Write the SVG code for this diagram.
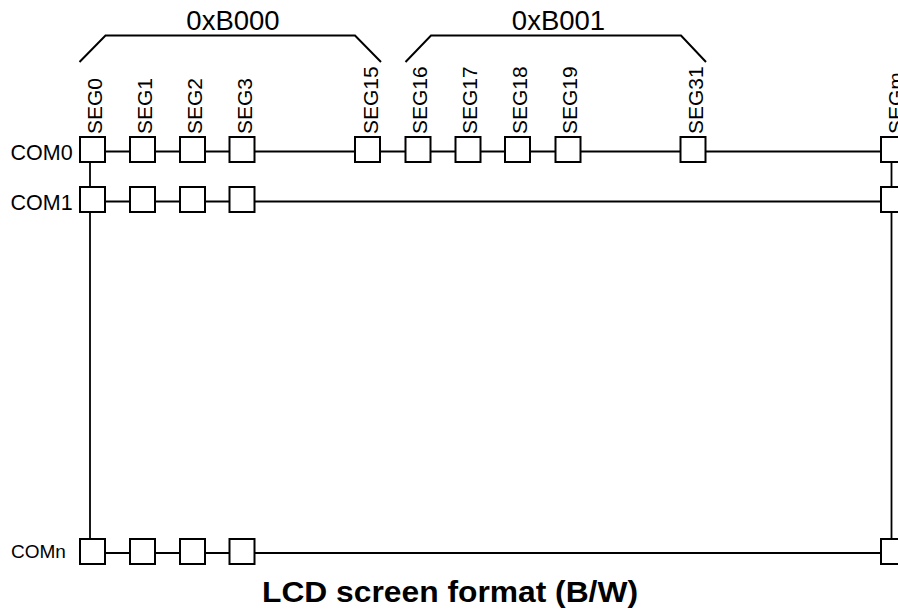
<svg xmlns="http://www.w3.org/2000/svg" width="898" height="612" viewBox="0 0 898 612">
<style>
text{font-family:"Liberation Sans",Arial,sans-serif;fill:#000}
.seg{font-size:21px}
.com{font-size:21.5px}
.addr{font-size:27.5px;text-anchor:middle}
.title{font-size:29px;font-weight:bold;text-anchor:middle}
.ln{stroke:#000;stroke-width:1.8;fill:none}
.br{stroke:#000;stroke-width:2;fill:none}
.cell{fill:#fff;stroke:#000;stroke-width:2}
</style>
<rect width="898" height="612" fill="#fff"/>
<g id="connectors">
<line class="ln" x1="92" y1="151.5" x2="898" y2="151.5"/>
<line class="ln" x1="92" y1="201.5" x2="898" y2="201.5"/>
<line class="ln" x1="92" y1="553" x2="898" y2="553"/>
<line class="ln" x1="90" y1="150" x2="90" y2="552"/>
<line class="ln" x1="891.5" y1="150" x2="891.5" y2="552"/>
</g>
<g id="bracket-B000">
<polyline class="br" points="79.5,62 105.5,35.5 355,35.5 381,62"/>
<text class="addr" x="233" y="30">0xB000</text>
</g>
<g id="bracket-B001">
<polyline class="br" points="405.5,62 431,35.5 681,35.5 706,62"/>
<text class="addr" x="558.5" y="30">0xB001</text>
</g>
<g id="seg-labels">
<text class="seg" transform="translate(102,134) rotate(-90)">SEG0</text>
<text class="seg" transform="translate(151.5,134) rotate(-90)">SEG1</text>
<text class="seg" transform="translate(201.5,134) rotate(-90)">SEG2</text>
<text class="seg" transform="translate(251.5,134) rotate(-90)">SEG3</text>
<text class="seg" transform="translate(377.5,134) rotate(-90)">SEG15</text>
<text class="seg" transform="translate(427,134) rotate(-90)">SEG16</text>
<text class="seg" transform="translate(477,134) rotate(-90)">SEG17</text>
<text class="seg" transform="translate(526.5,134) rotate(-90)">SEG18</text>
<text class="seg" transform="translate(577,134) rotate(-90)">SEG19</text>
<text class="seg" transform="translate(702.5,134) rotate(-90)">SEG31</text>
<text class="seg" transform="translate(902.5,134) rotate(-90)">SEGm</text>
</g>
<g id="com0">
<text class="com" x="10.5" y="160">COM0</text>
<rect class="cell" x="80" y="137" width="25" height="25"/>
<rect class="cell" x="130" y="137" width="25" height="25"/>
<rect class="cell" x="180" y="137" width="25" height="25"/>
<rect class="cell" x="229.5" y="137" width="25" height="25"/>
<rect class="cell" x="355" y="137" width="25" height="25"/>
<rect class="cell" x="405.5" y="137" width="25" height="25"/>
<rect class="cell" x="455.5" y="137" width="25" height="25"/>
<rect class="cell" x="505" y="137" width="25" height="25"/>
<rect class="cell" x="555.5" y="137" width="25" height="25"/>
<rect class="cell" x="680.5" y="137" width="25" height="25"/>
<rect class="cell" x="881" y="137" width="25" height="25"/>
</g>
<g id="com1">
<text class="com" x="10.5" y="210">COM1</text>
<rect class="cell" x="80" y="187" width="25" height="25"/>
<rect class="cell" x="130" y="187" width="25" height="25"/>
<rect class="cell" x="180" y="187" width="25" height="25"/>
<rect class="cell" x="229.5" y="187" width="25" height="25"/>
<rect class="cell" x="881" y="187" width="25" height="25"/>
</g>
<g id="comn">
<text x="11" y="557.5" style="font-size:19px">COMn</text>
<rect class="cell" x="80" y="539" width="25" height="25"/>
<rect class="cell" x="130" y="539" width="25" height="25"/>
<rect class="cell" x="180" y="539" width="25" height="25"/>
<rect class="cell" x="229.5" y="539" width="25" height="25"/>
<rect class="cell" x="881" y="539" width="25" height="25"/>
</g>
<g id="caption">
<text class="title" x="450" y="602" textLength="376" lengthAdjust="spacingAndGlyphs">LCD screen format (B/W)</text>
</g>
</svg>
